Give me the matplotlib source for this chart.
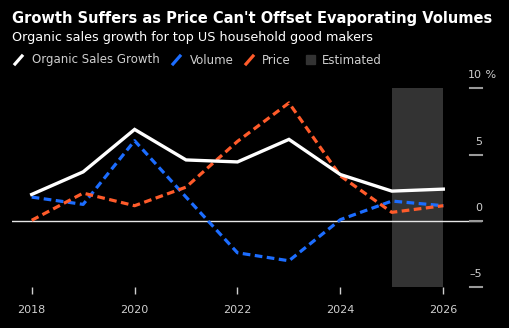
import matplotlib
matplotlib.use("Agg")
import matplotlib.pyplot as plt
from matplotlib.lines import Line2D
from matplotlib.patches import Rectangle
import matplotlib.transforms as mtransforms

years = [2018, 2019, 2020, 2021, 2022, 2023, 2024, 2025, 2026]
organic = [2.0, 3.7, 6.9, 4.6, 4.45, 6.15, 3.5, 2.25, 2.4]
volume = [1.8, 1.25, 6.05, 1.8, -2.4, -3.0, 0.1, 1.5, 1.15]
price = [0.05, 2.1, 1.15, 2.55, 6.0, 8.9, 3.4, 0.65, 1.15]
est_start, est_end = 2025, 2026
yticks = [-5, 0, 5, 10]
xticks = [2018, 2020, 2022, 2024, 2026]

BG = "black"
WHITE = "white"
BLUE = "#1c6dff"
ORANGE = "#ff5b2a"
SHADE = "#333333"
GREY = "#cfcfcf"

W, H = 510, 328
fig = plt.figure(figsize=(W / 100, H / 100), dpi=100, facecolor=BG)

# plot area in pixels (left, top, right, bottom)
L, T, R, B = 12, 88.3, 482, 287.3
ax = fig.add_axes([L / W, 1 - B / H, (R - L) / W, (B - T) / H])
ax.set_facecolor(BG)
for s in ax.spines.values():
    s.set_visible(False)

px_per_year = (443.3 - 31.7) / 8
ax.set_xlim(2018 - (31.7 - L) / px_per_year, 2026 + (R - 443.3) / px_per_year)
ax.set_ylim(-5, 10)

ax.axvspan(est_start, est_end, color=SHADE, lw=0, zorder=1)
ax.axhline(0, color="#e6e6e6", lw=1, zorder=2)

ax.plot(years, volume, color=BLUE, lw=2.3, ls=(0, (2.4, 1.4)), zorder=3)
ax.plot(years, price, color=ORANGE, lw=2.3, ls=(0, (2.4, 1.4)), zorder=3)
ax.plot(years, organic, color=WHITE, lw=2.4, zorder=4, solid_joinstyle="miter")

# x axis
ax.set_xticks(xticks)
ax.set_xticklabels([str(x) for x in xticks])
ax.tick_params(axis="x", colors=GREY, length=5, width=1, pad=8, labelsize=8)
ax.set_yticks([])

# right-side y ticks: short rule plus label sitting on it
trans = mtransforms.blended_transform_factory(ax.transAxes, ax.transData)
for v in yticks:
    ax.axhline(v, xmin=(470 - L) / (R - L), xmax=1, color="#9a9a9a", lw=1.5, zorder=2, clip_on=False)
    ax.text(1.0, v + 0.6, str(v).replace("-", "\u2013") if v < 0 else str(v), transform=trans,
            ha="right", va="bottom", color=GREY, fontsize=8)
ax.text(1.0, 10 + 0.6, " %", transform=trans, ha="left", va="bottom", color=GREY, fontsize=8)

# titles
fig.text(12 / W, 1 - 18 / H, "Growth Suffers as Price Can't Offset Evaporating Volumes",
         color=WHITE, fontsize=10.5, fontweight="bold", va="center", ha="left")
fig.text(12 / W, 1 - 37 / H, "Organic sales growth for top US household good makers",
         color=WHITE, fontsize=9.2, va="center", ha="left")

# legend
ly = 1 - 60 / H
def slash(x0, color):
    fig.add_artist(Line2D([x0 / W, (x0 + 7) / W], [ly - 4 / H, ly + 4 / H],
                          color=color, lw=2.3, transform=fig.transFigure))

slash(15, WHITE)
fig.text(32 / W, ly, "Organic Sales Growth", color=GREY, fontsize=8.5, va="center")
slash(173, BLUE)
fig.text(190 / W, ly, "Volume", color=GREY, fontsize=8.5, va="center")
slash(246, ORANGE)
fig.text(262 / W, ly, "Price", color=GREY, fontsize=8.5, va="center")
fig.add_artist(Rectangle((306 / W, ly - 4.5 / H), 9 / W, 9 / H, color=SHADE,
                         transform=fig.transFigure))
fig.text(322 / W, ly, "Estimated", color=GREY, fontsize=8.5, va="center")

fig.savefig("out.png", dpi=100, facecolor=BG)
